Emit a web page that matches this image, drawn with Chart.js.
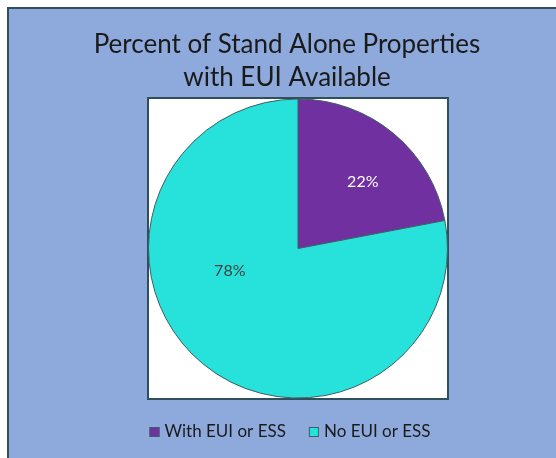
<!DOCTYPE html>
<html lang="en">
<head>
    <meta charset="UTF-8">
    <title>Percent of Stand Alone Properties with EUI Available</title>
    <script src="https://cdn.jsdelivr.net/npm/chart.js"></script>
    <style>
        html, body { margin: 0; padding: 0; background: #ffffff; }
        #wrap { width: 556px; height: 458px; }
    </style>
</head>
<body>
<div id="wrap"><canvas id="grafico" width="556" height="458"></canvas></div>
<script>
    // dados do grafico
    const categorias = ['With EUI or ESS', 'No EUI or ESS'];
    const valores = [22, 78];
    const rotulos = ['22%', '78%'];
    const cores = ['#7030A0', '#26E2DA'];
    const tituloLinhas = ['Percent of Stand Alone Properties', 'with EUI Available'];

    const corBorda = '#3E5F66';

    // fundo azul + caixa branca da area do grafico + titulo
    const fundo = {
        id: 'fundo',
        beforeDraw(chart) {
            const ctx = chart.ctx;
            const a = chart.chartArea;
            ctx.save();
            ctx.fillStyle = '#ffffff';
            ctx.fillRect(0, 0, chart.width, chart.height);
            ctx.fillStyle = '#8EA9DB';
            ctx.fillRect(7, 7, chart.width - 7, chart.height - 7);
            ctx.strokeStyle = '#2F4F5A';
            ctx.lineWidth = 2;
            ctx.beginPath();
            ctx.moveTo(8, chart.height);
            ctx.lineTo(8, 8);
            ctx.lineTo(chart.width, 8);
            ctx.stroke();
            ctx.fillStyle = '#ffffff';
            ctx.fillRect(a.left, a.top, a.right - a.left, a.bottom - a.top);
            ctx.strokeRect(a.left, a.top, a.right - a.left, a.bottom - a.top);

            // titulo
            ctx.fillStyle = '#1a1a1a';
            ctx.font = '26px Lato';
            ctx.textAlign = 'center';
            ctx.textBaseline = 'middle';
            tituloLinhas.forEach((linha, i) => {
                ctx.fillText(linha, 287, 45 + i * 33);
            });
            ctx.restore();
        }
    };

    // legenda embaixo (desenhada a mao pra caber na largura toda)
    const legenda = {
        id: 'legenda',
        afterDraw(chart) {
            const ctx = chart.ctx;
            ctx.save();
            ctx.font = '17px Lato';
            ctx.textBaseline = 'middle';
            ctx.textAlign = 'left';
            const caixa = 10, gap = 5, entre = 23, y = 432;
            const larguras = categorias.map(c => ctx.measureText(c).width);
            let total = larguras.reduce((s, w) => s + w + caixa + gap, 0) + entre * (categorias.length - 1);
            let x = 290 - total / 2;
            categorias.forEach((c, i) => {
                ctx.fillStyle = cores[i];
                ctx.fillRect(x, y - caixa / 2, caixa, caixa);
                ctx.strokeStyle = corBorda;
                ctx.lineWidth = 1;
                ctx.strokeRect(x + 0.5, y - caixa / 2 + 0.5, caixa - 1, caixa - 1);
                ctx.fillStyle = '#1a1a1a';
                ctx.fillText(c, x + caixa + gap, y);
                x += caixa + gap + larguras[i] + entre;
            });
            ctx.restore();
        }
    };

    // rotulos de porcentagem nas fatias
    const posRotulo = [{ frac: 0.56, r: 0.62, cor: '#ffffff' }, { frac: 0.615, r: 0.48, cor: '#404040' }];
    const rotulosFatias = {
        id: 'rotulosFatias',
        afterDatasetsDraw(chart) {
            const ctx = chart.ctx;
            const meta = chart.getDatasetMeta(0);
            ctx.save();
            ctx.font = '16px Lato';
            ctx.textAlign = 'center';
            ctx.textBaseline = 'middle';
            meta.data.forEach((arc, i) => {
                const p = posRotulo[i];
                const ang = arc.startAngle + (arc.endAngle - arc.startAngle) * p.frac;
                const rad = arc.outerRadius * p.r;
                ctx.fillStyle = p.cor;
                ctx.fillText(rotulos[i], arc.x + Math.cos(ang) * rad, arc.y + Math.sin(ang) * rad);
            });
            ctx.restore();
        }
    };

    new Chart(document.getElementById('grafico'), {
        type: 'pie',
        data: {
            labels: categorias,
            datasets: [{
                data: valores,
                backgroundColor: cores,
                borderColor: corBorda,
                borderWidth: 1
            }]
        },
        options: {
            responsive: false,
            animation: false,
            layout: { padding: { left: 148, right: 108, top: 98, bottom: 59 } },
            plugins: {
                title: { display: false },
                legend: { display: false },
                tooltip: { enabled: false }
            }
        },
        plugins: [fundo, legenda, rotulosFatias]
    });
</script>
</body>
</html>
